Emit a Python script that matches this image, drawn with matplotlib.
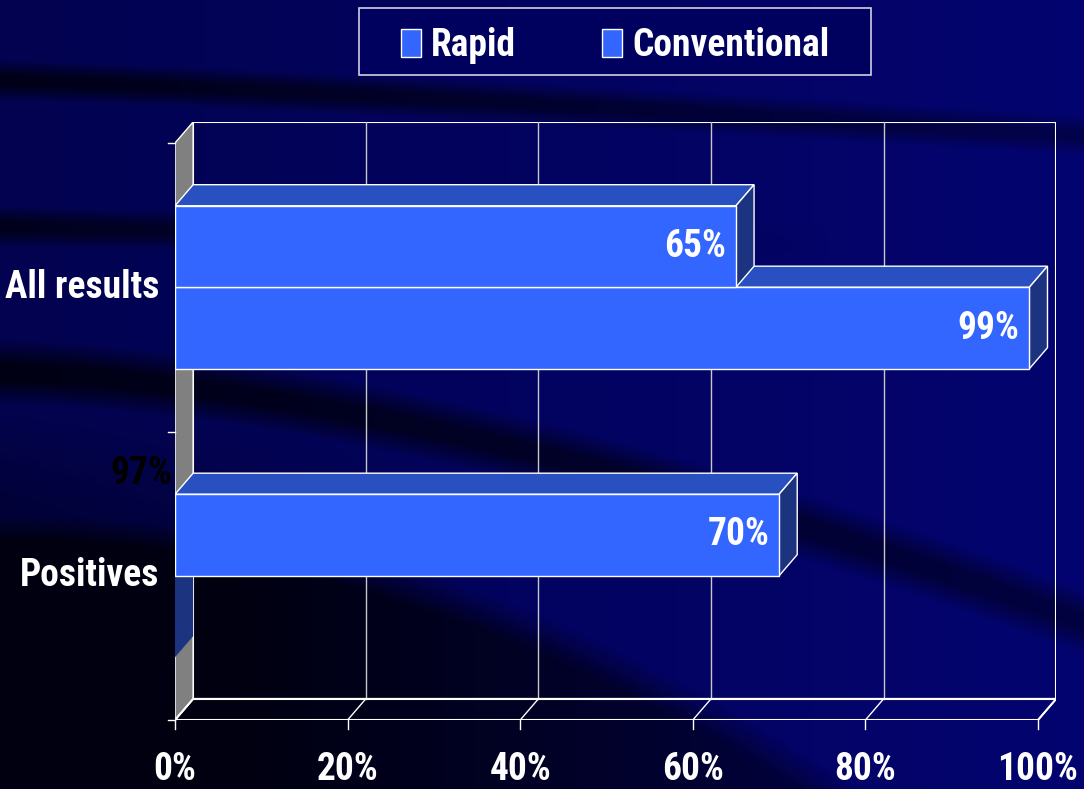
import numpy as np
import matplotlib
matplotlib.use("Agg")
import matplotlib.pyplot as plt
from matplotlib.patches import Polygon, Rectangle, Patch

plt.rcParams['font.family'] = ['Roboto Condensed', 'DejaVu Sans']
plt.rcParams['font.weight'] = 'bold'

# data
categories = ['All results', 'Positives']
series = ['Rapid', 'Conventional']
rapid = [65, 70]
conventional = [99, 97]
ticks = [0, 20, 40, 60, 80, 100]

front_col = '#3366FF'
top_col = '#2850C0'
side_col = '#1C3380'
wall_col = '#808080'
FS = 27

W_PX, H_PX = 1084, 789
fig = plt.figure(figsize=(W_PX / 100, H_PX / 100), dpi=100)

# background: navy with dark curved bands
bg = fig.add_axes([0, 0, 1, 1])
bg.axis('off')
px, py = np.meshgrid(np.arange(W_PX), np.arange(H_PX))
u = px / W_PX
base = 80 + 32 * u


def band(center, half, strength):
    d = np.abs(py - center) / half
    return strength * np.clip(1.3 - d, 0, 1)


dark = np.zeros_like(base)
dark = np.maximum(dark, band(80 + 55 * u ** 1.2, 16, 0.7 * (1 - 0.55 * u)))
dark = np.maximum(dark, band(226 + 25 * u, 16, 0.65 * np.clip(1 - 1.3 * u, 0, 1)))
dark = np.maximum(dark, band(372 + 250 * u ** 1.6, 26, 0.75 * (1 - 0.45 * u)))
edge = 500 + 3.9e-4 * px ** 2
low = np.clip((py - edge) / 40, 0, 1) * np.clip(1.2 - 0.9 * u, 0, 1) * 0.8
dark = np.maximum(dark, low)
dark = np.maximum(dark, 0.35 * np.clip(1 - u * 2.2, 0, 1) * np.clip((py - 400) / 120, 0, 1))
blue = base * (1 - dark)
img = np.dstack([0.03 * blue, 0.03 * blue, blue]) / 255
bg.imshow(img, extent=[0, 1, 0, 1], aspect='auto', zorder=0)

# main axes: x in percent, y in category units on the front plane
DX = 2.1
DY = 0.073
H = 0.2825
ax = fig.add_axes([175 / W_PX, 69 / H_PX, (100 + DX) * 8.63 / W_PX, (2 + DY) * 288.5 / H_PX])
ax.set_xlim(0, 100 + DX)
ax.set_ylim(0, 2 + DY)
ax.axis('off')
ax.patch.set_alpha(0)

# back wall, gridlines, side wall, floor
ax.add_patch(Rectangle((DX, DY), 100, 2, fill=False, ec='white', lw=1.5, zorder=2))
for t in ticks[1:-1]:
    ax.plot([t + DX, t + DX], [DY, 2 + DY], color='#C8C8C8', lw=1, zorder=2)
ax.add_patch(Polygon([(0, 0), (DX, DY), (DX, 2 + DY), (0, 2)], fc=wall_col, ec='white', lw=1, zorder=3))
ax.add_patch(Polygon([(0, 0), (100, 0), (100 + DX, DY), (DX, DY)], fill=False, ec='white', lw=1.5, zorder=3))
for t in ticks:
    ax.plot([t, t + DX], [0, DY], color='white', lw=1, zorder=3)
    ax.plot([t, t], [0, -0.03], color='white', lw=1, zorder=3, clip_on=False)
    ax.annotate(f'{t}%', xy=(t, 0), xytext=(0, -36), textcoords='offset points',
                ha='center', va='center', color='white', fontsize=FS, annotation_clip=False)
for yy in [0, 1, 2]:
    ax.plot([-0.8, 0], [yy, yy], color='white', lw=1, zorder=3, clip_on=False)


def bar3d(y0, v, z, visible=True):
    if not visible:
        # only the end face against the side wall shows
        ax.add_patch(Polygon([(0, y0), (DX, y0 + DY), (DX, y0 + H + DY), (0, y0 + H)],
                             fc=side_col, ec='none', zorder=z))
        return
    ax.add_patch(Rectangle((0, y0), v, H, fc=front_col, ec='white', lw=1, zorder=z + 0.2))
    ax.add_patch(Polygon([(0, y0 + H), (v, y0 + H), (v + DX, y0 + H + DY), (DX, y0 + H + DY)],
                         fc=top_col, ec='white', lw=1, zorder=z))
    ax.add_patch(Polygon([(v, y0), (v + DX, y0 + DY), (v + DX, y0 + H + DY), (v, y0 + H)],
                         fc=side_col, ec='white', lw=1, zorder=z))
    ax.annotate(f'{v}%', xy=(v, y0 + H / 2), xytext=(-7, 0), textcoords='offset points',
                ha='right', va='center', color='white', fontsize=FS, zorder=z + 0.5)


centers = [1.5, 0.5]
z = 4
for i, c in enumerate(centers):
    bar3d(c - H, conventional[i], z, visible=(i == 0))
    bar3d(c, rapid[i], z + 1)
    z += 2
    ax.annotate(categories[i], xy=(0, c), xytext=(-11, 0), textcoords='offset points',
                ha='right', va='center', color='white', fontsize=FS, annotation_clip=False)

# label of the hidden conventional bar for positives
ax.annotate(f'{conventional[1]}%', xy=(0, 0.5 + H + DY), xytext=(-2, 0), textcoords='offset points',
            ha='right', va='center', color='black', fontsize=FS, annotation_clip=False, zorder=20)

# legend box with a wider frame than the default padding gives
fig.patches.append(Rectangle((359 / W_PX, 1 - 75 / H_PX), 512 / W_PX, 67 / H_PX,
                             transform=fig.transFigure, fc='#00005E', ec='#D0D0E0', lw=1.2, zorder=5))
handles = [Patch(fc=front_col, ec='white', lw=1, label=s) for s in series]
leg = fig.legend(handles=handles, loc='upper center', bbox_to_anchor=(615 / W_PX, 1 - 12 / H_PX),
                 ncol=2, fontsize=FS, handlelength=0.53, handleheight=0.77, handletextpad=0.27,
                 columnspacing=2.3, borderpad=0.4, borderaxespad=0, frameon=False)
leg.set_zorder(6)
for t in leg.get_texts():
    t.set_color('white')

fig.savefig('out.png', dpi=100)
